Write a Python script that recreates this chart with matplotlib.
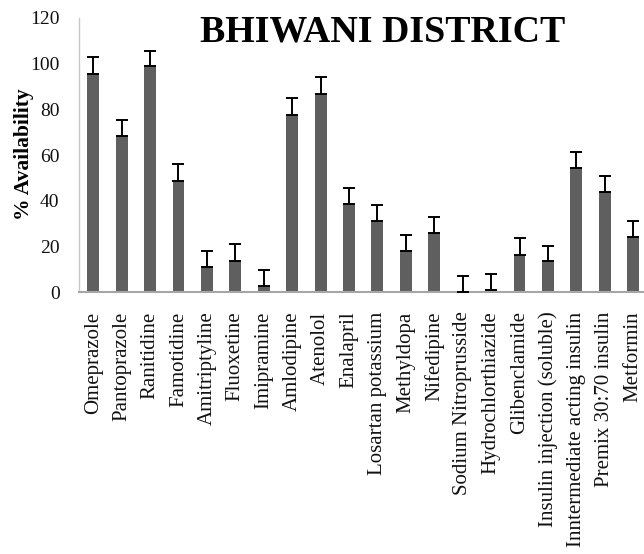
import matplotlib
matplotlib.use("Agg")
import matplotlib.pyplot as plt
import numpy as np

categories = ["Omeprazole", "Pantoprazole", "Ranitidine", "Famotidine", "Amitriptyline",
              "Fluoxetine", "Imipramine", "Amlodipine", "Atenolol", "Enalapril",
              "Losartan potassium", "Methyldopa", "Nifedipine", "Sodium Nitroprusside",
              "Hydrochlorthiazide", "Glibenclamide", "Insulin injection (soluble)",
              "Inntermediate acting insulin", "Premix 30:70 insulin", "Metformin"]
values = [95.5, 68.5, 99, 48.5, 11, 13.5, 2.5, 77.5, 86.5, 38.5,
          31, 18, 26, 0, 1, 16, 13.5, 54.5, 44, 24]
errors = [7.5, 7, 6.5, 7.5, 7, 7.5, 7, 7.5, 7.5, 7,
          7, 7, 7, 6.8, 7, 7.5, 6.8, 7, 6.8, 7]
yticks = [0, 20, 40, 60, 80, 100, 120]

plt.rcParams['font.family'] = ['Liberation Serif', 'DejaVu Serif']

fig = plt.figure(figsize=(6.44, 5.54), dpi=100)
W, H = 644, 554
ax = fig.add_axes([79 / W, 1 - 292 / H, 568.4 / W, (292 - 18) / H])

x = np.arange(len(categories))
ax.bar(x, values, width=0.42, color="#5f5f5f", zorder=2)
ax.errorbar(x, values, yerr=[np.zeros(len(errors)), errors], fmt="none",
            ecolor="black", elinewidth=1.4, capsize=4.3, capthick=1.4, zorder=3)

ax.set_xlim(-0.5, len(categories) - 0.5)
ax.set_ylim(0, 120)
ax.set_yticks(yticks)
ax.set_yticklabels([str(t) for t in yticks], fontsize=14, color="#111111")
ax.set_xticks(x)
ax.set_xticklabels(categories, rotation=90, fontsize=15, color="#111111")
ax.tick_params(axis="y", length=0, pad=14)
ax.tick_params(axis="x", length=0, pad=14)

for s in ["top", "right"]:
    ax.spines[s].set_visible(False)
ax.spines["left"].set_color("#c8c8c8")
ax.spines["left"].set_linewidth(1.0)
ax.spines["bottom"].set_color("#a6a6a6")
ax.spines["bottom"].set_linewidth(1.5)

ax.set_ylabel("% Availability", fontsize=15.5, fontweight="bold")
ax.yaxis.set_label_coords((34 - 79) / 568.4, (292 - 154) / 274)

fig.text(383 / W, 1 - 42 / H, "BHIWANI DISTRICT", ha="center", va="baseline",
         fontsize=27.3, fontweight="bold", color="black")

fig.savefig("out.png", dpi=100)
